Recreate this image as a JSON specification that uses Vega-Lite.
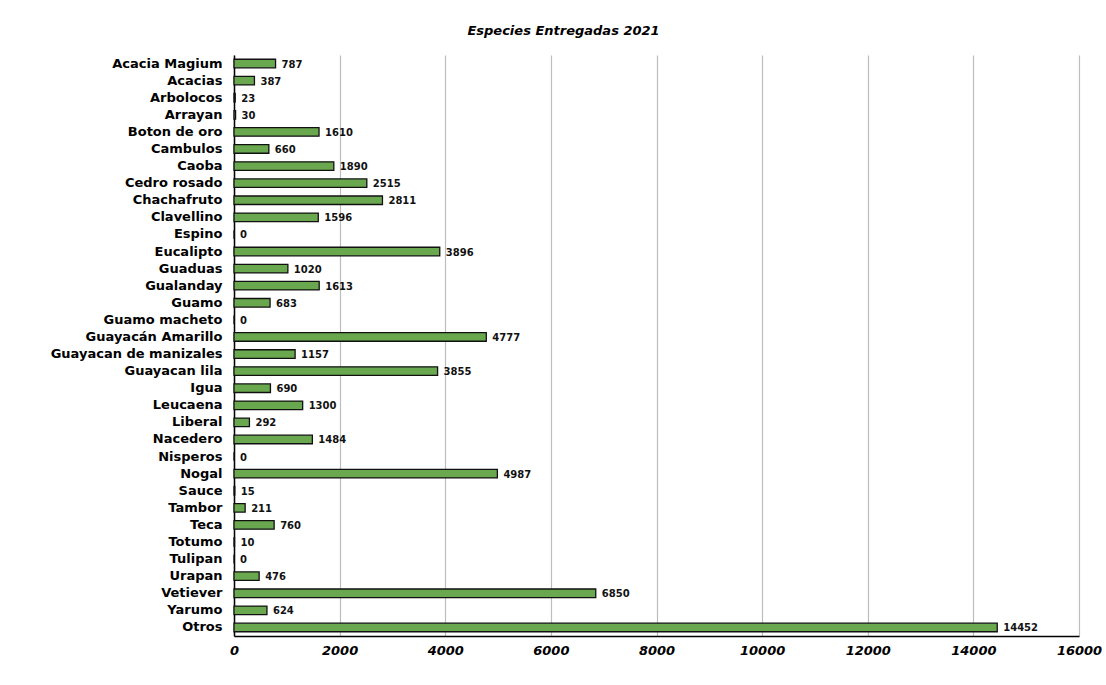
{
  "$schema": "https://vega.github.io/schema/vega-lite/v6.json",
  "autosize": "none",
  "width": 845,
  "height": 581,
  "padding": {"left": 234, "top": 55, "right": 27, "bottom": 49},
  "background": "white",
  "title": {"text": "Especies Entregadas 2021", "font": "DejaVu Sans", "fontSize": 13, "fontWeight": "bold", "fontStyle": "italic", "color": "#000", "anchor": "middle", "dx": -93, "offset": 17},
  "data": {"values": [
    {"especie": "Acacia Magium", "cantidad": 787},
    {"especie": "Acacias", "cantidad": 387},
    {"especie": "Arbolocos", "cantidad": 23},
    {"especie": "Arrayan", "cantidad": 30},
    {"especie": "Boton de oro", "cantidad": 1610},
    {"especie": "Cambulos", "cantidad": 660},
    {"especie": "Caoba", "cantidad": 1890},
    {"especie": "Cedro rosado", "cantidad": 2515},
    {"especie": "Chachafruto", "cantidad": 2811},
    {"especie": "Clavellino", "cantidad": 1596},
    {"especie": "Espino", "cantidad": 0},
    {"especie": "Eucalipto", "cantidad": 3896},
    {"especie": "Guaduas", "cantidad": 1020},
    {"especie": "Gualanday", "cantidad": 1613},
    {"especie": "Guamo", "cantidad": 683},
    {"especie": "Guamo macheto", "cantidad": 0},
    {"especie": "Guayacán Amarillo", "cantidad": 4777},
    {"especie": "Guayacan de manizales", "cantidad": 1157},
    {"especie": "Guayacan lila", "cantidad": 3855},
    {"especie": "Igua", "cantidad": 690},
    {"especie": "Leucaena", "cantidad": 1300},
    {"especie": "Liberal", "cantidad": 292},
    {"especie": "Nacedero", "cantidad": 1484},
    {"especie": "Nisperos", "cantidad": 0},
    {"especie": "Nogal", "cantidad": 4987},
    {"especie": "Sauce", "cantidad": 15},
    {"especie": "Tambor", "cantidad": 211},
    {"especie": "Teca", "cantidad": 760},
    {"especie": "Totumo", "cantidad": 10},
    {"especie": "Tulipan", "cantidad": 0},
    {"especie": "Urapan", "cantidad": 476},
    {"especie": "Vetiever", "cantidad": 6850},
    {"especie": "Yarumo", "cantidad": 624},
    {"especie": "Otros", "cantidad": 14452}
  ]},
  "encoding": {
    "y": {"field": "especie", "type": "nominal", "sort": null, "title": null,
      "scale": {"paddingInner": 0.5, "paddingOuter": 0.25},
      "axis": {"labelFont": "DejaVu Sans", "labelFontSize": 13, "labelFontWeight": "bold", "labelColor": "#000", "labelPadding": 12, "ticks": false, "domainColor": "#000", "domainWidth": 1.5, "grid": false}},
    "x": {"field": "cantidad", "type": "quantitative", "title": null,
      "scale": {"domain": [0, 16000], "nice": false},
      "axis": {"values": [0, 2000, 4000, 6000, 8000, 10000, 12000, 14000, 16000], "format": "d", "labelFont": "DejaVu Sans", "labelFontSize": 13, "labelFontWeight": "bold", "labelFontStyle": "italic", "labelColor": "#000", "labelPadding": 8, "ticks": false, "domainColor": "#000", "domainWidth": 1.5, "grid": true, "gridColor": "#bdbdbd", "gridWidth": 1.2, "labelFlush": false}}
  },
  "layer": [
    {"mark": {"type": "bar", "fill": "#6aa84f", "stroke": "#111", "strokeWidth": 1.3}},
    {"mark": {"type": "text", "align": "left", "baseline": "middle", "dx": 6, "dy": 1, "font": "DejaVu Sans", "fontSize": 10, "fontWeight": "bold", "fill": "#111"},
     "encoding": {"text": {"field": "cantidad", "type": "quantitative", "format": "d"}}}
  ],
  "config": {"view": {"stroke": null}}
}
